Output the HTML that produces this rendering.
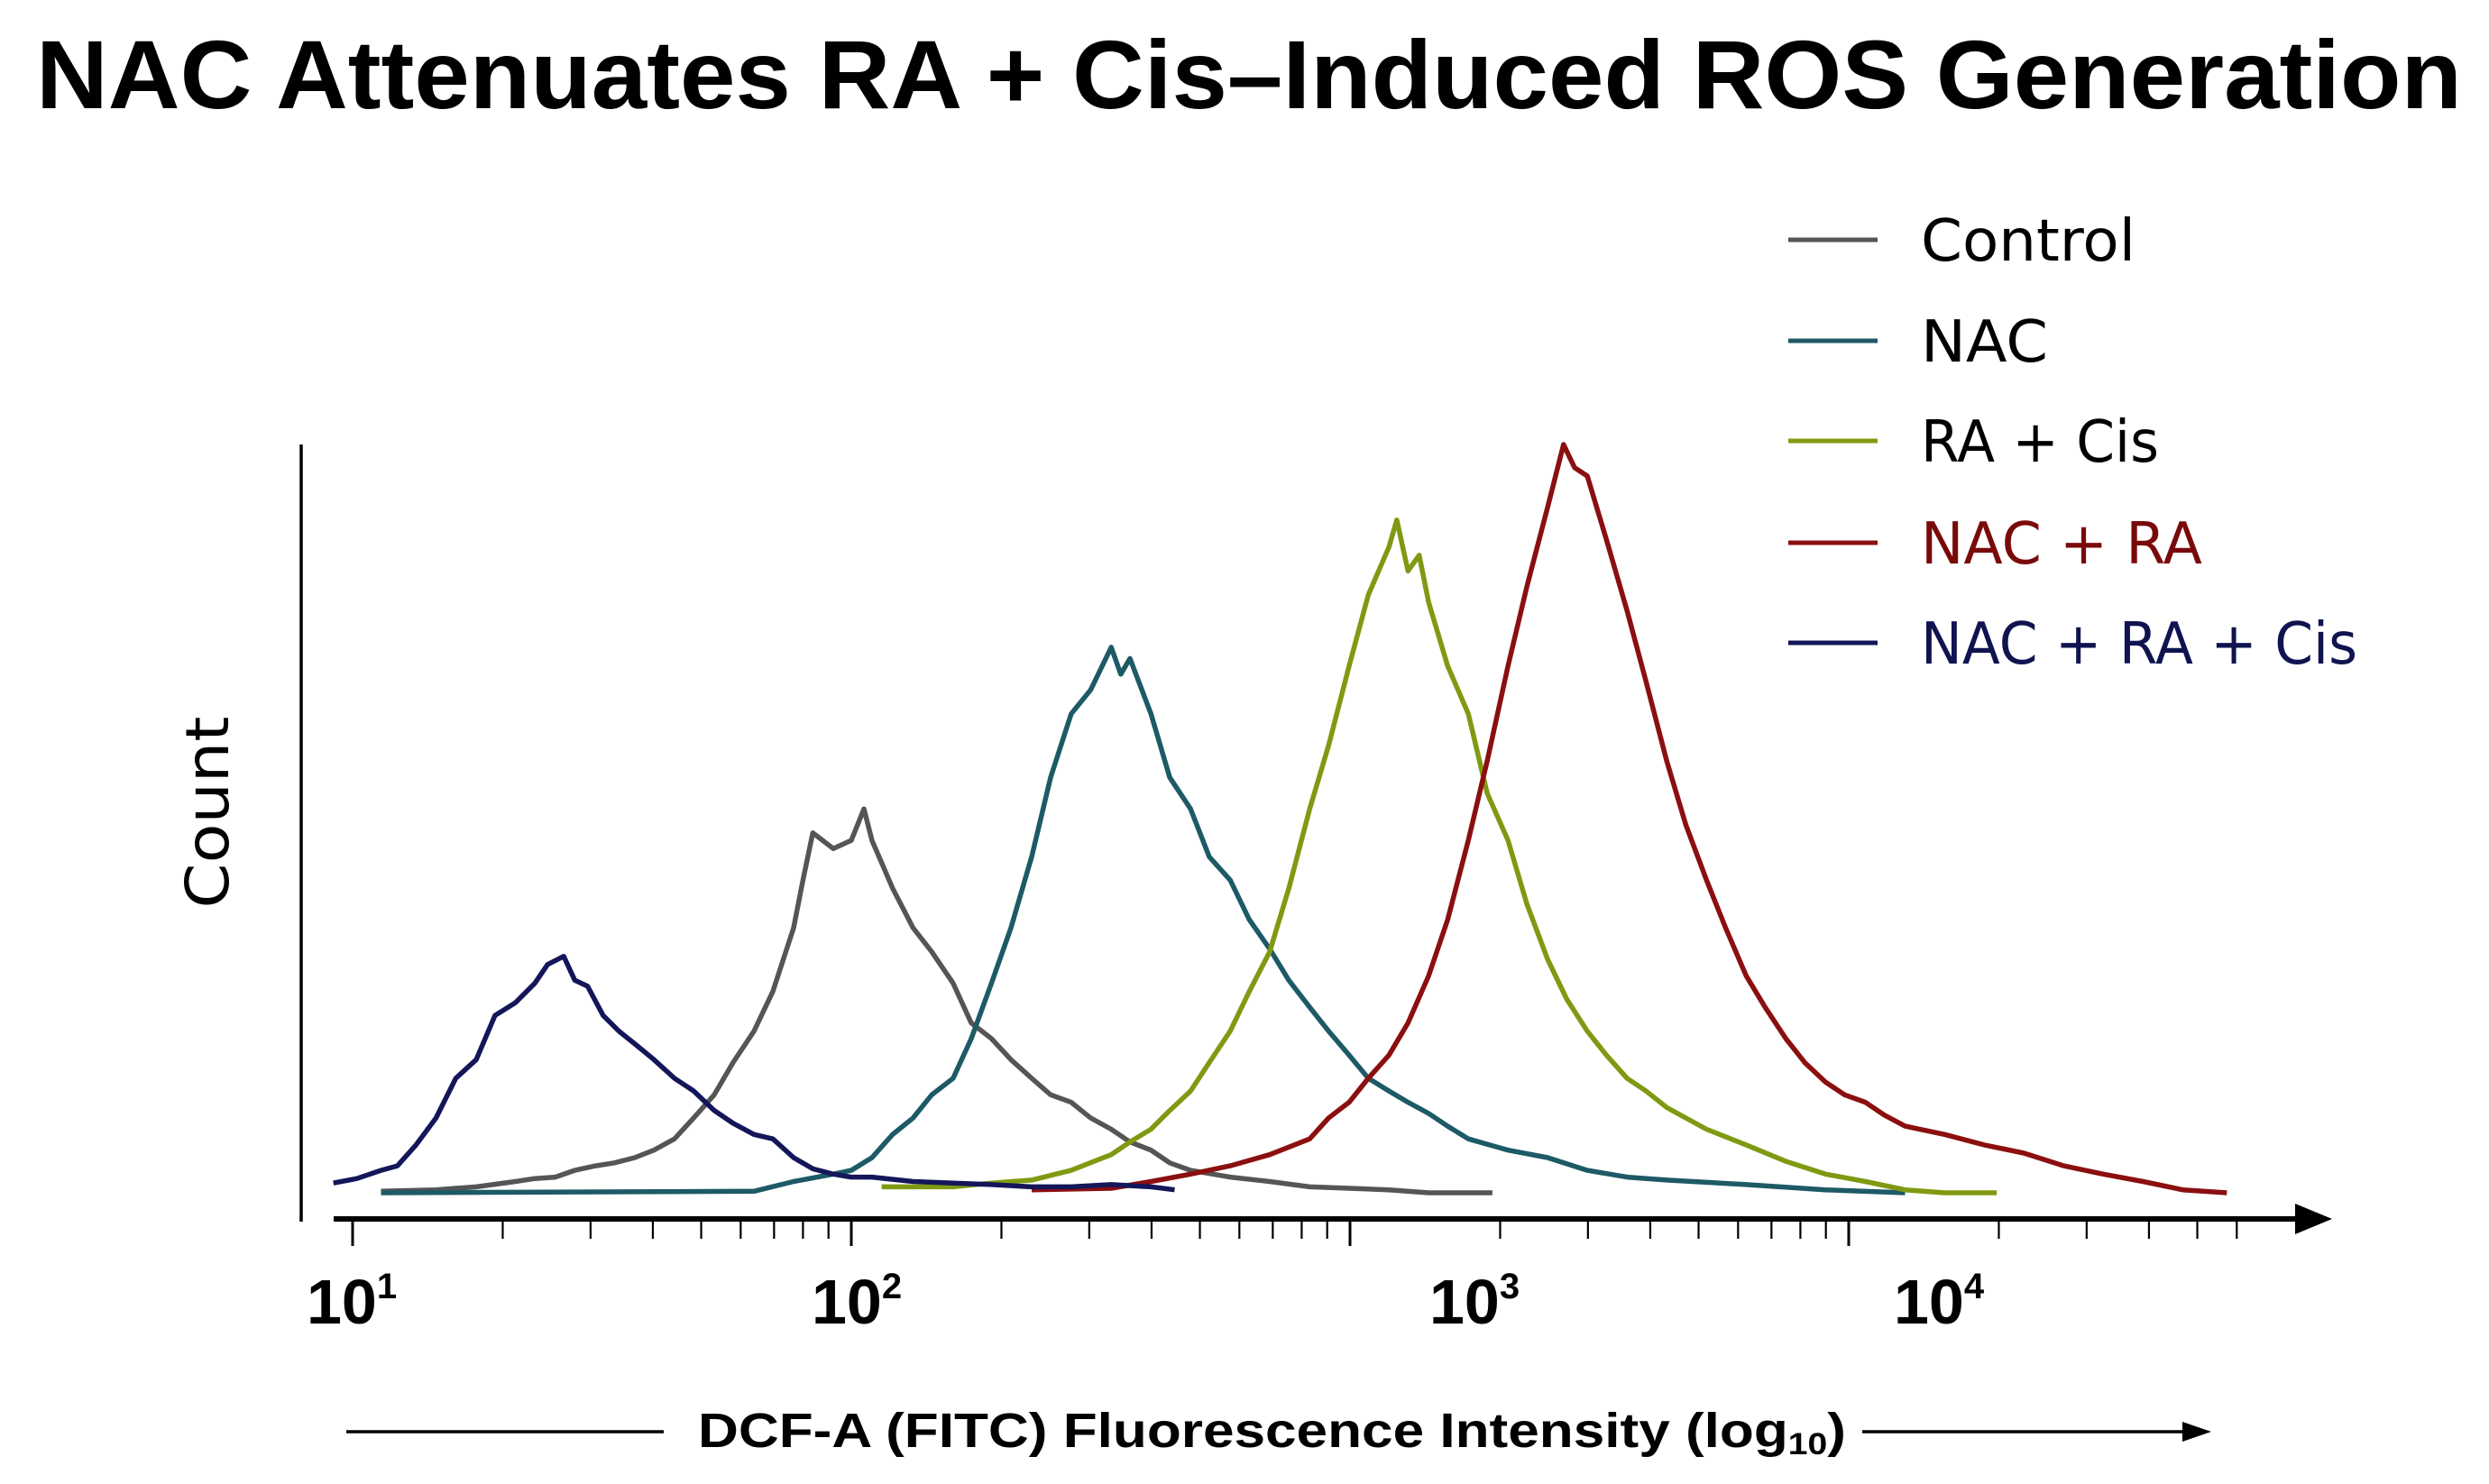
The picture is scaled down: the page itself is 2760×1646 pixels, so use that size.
<!DOCTYPE html>
<html><head><meta charset="utf-8"><style>
html,body{margin:0;padding:0;background:#fff;}
svg{display:block;}
</style></head><body>
<svg id="chart" width="2760" height="1646" viewBox="0 0 2760 1646" xmlns="http://www.w3.org/2000/svg">
<rect width="2760" height="1646" fill="#fff"/>
<text x="1385" y="120" text-anchor="middle" font-family="Liberation Sans, sans-serif" font-weight="bold" font-size="108" textLength="2690" lengthAdjust="spacingAndGlyphs" fill="#000">NAC Attenuates RA + Cis–Induced ROS Generation</text>
<line x1="334" y1="493" x2="334" y2="1355" stroke="#000" stroke-width="3.5"/>
<line x1="370" y1="1352" x2="2555" y2="1352" stroke="#000" stroke-width="6"/>
<polygon points="2545,1335 2586,1352 2545,1369" fill="#000"/>
<text transform="translate(253,901) rotate(-90)" text-anchor="middle" font-family="DejaVu Sans, Liberation Sans, sans-serif" font-size="66" textLength="213" lengthAdjust="spacingAndGlyphs" fill="#000">Count</text>
<g id="ticks"></g>
<g id="ticklabels" font-family="Liberation Sans, sans-serif" font-weight="bold" font-size="70" fill="#000">
<text x="390" y="1468" text-anchor="middle">10<tspan dy="-28" font-size="40">1</tspan></text>
<text x="950" y="1468" text-anchor="middle">10<tspan dy="-28" font-size="40">2</tspan></text>
<text x="1635" y="1468" text-anchor="middle">10<tspan dy="-28" font-size="40">3</tspan></text>
<text x="2150" y="1468" text-anchor="middle">10<tspan dy="-28" font-size="40">4</tspan></text>
</g>
<line x1="384" y1="1588" x2="736" y2="1588" stroke="#000" stroke-width="3.5"/>
<text x="774" y="1605" font-family="Liberation Sans, sans-serif" font-weight="bold" font-size="54" textLength="1273" lengthAdjust="spacingAndGlyphs" fill="#000">DCF-A (FITC) Fluorescence Intensity (log<tspan font-size="34" dy="8">10</tspan><tspan dy="-8">)</tspan></text>
<line x1="2065" y1="1588" x2="2430" y2="1588" stroke="#000" stroke-width="3.5"/>
<polygon points="2420,1577 2452,1588 2420,1599" fill="#000"/>
<g id="series"></g>
<g id="legend" font-family="DejaVu Sans, Liberation Sans, sans-serif" font-size="64"></g>
</svg>
<script>
const NS = "http://www.w3.org/2000/svg";
// ---- data ----
const seriesNames = ["Control","NAC","RA + Cis","NAC + RA","NAC + RA + Cis"];
const seriesColors = ["#555555","#1d5a66","#7f9a12","#8b0f0f","#14165a"];
const legendTextColors = ["#000","#000","#000","#7a0a0a","#0f1450"];
const controlX = [11.4,14.7,17.7,21.2,23.2,25.5,27.9,30.7,33.5,36.8,40.2,44.2,48.3,53.1,57.9,63.8,69.6,76.6,80,83.7,92,100,106,110,121,133,145,160,174,191,209,230,251,276,302,332,362,399,435,479,575,690,830,996,1197,1438,1930];
const controlY = [0.2,0.4,0.8,1.5,1.9,2.1,3.0,3.6,4.0,4.7,5.7,7.2,10,13.1,17.4,21.6,26.9,35.4,41.8,48.1,46,47.1,51.3,47.1,40.7,35.4,32.2,28,22.7,20.6,17.8,15.3,13.1,12.1,10,8.5,6.8,5.7,4.0,3.0,2.1,1.5,0.8,0.6,0.4,0,0];
const nacX = [11.4,63.8,76.6,92,100,110,121,133,145,160,174,191,209,230,251,276,302,332,347,362,399,435,479,522,575,628,690,754,830,906,996,1088,1197,1307,1438,1570,1727,2074,2490,2991,3594,4316,6228,8987,12970];
const nacY = [0,0.2,1.5,2.5,3.0,4.7,7.8,10,13.1,15.3,20.6,28,35.4,44.9,55.5,64,67.2,72.9,69.3,71.4,64,55.5,51.3,44.9,41.8,36.5,32.6,28.4,24.8,21.6,18.4,15.3,13.6,12.1,10.6,8.9,7.2,5.7,4.7,3.0,2.1,1.7,1.1,0.4,0];
const raCisX = [115,160,191,230,276,332,362,399,435,479,522,575,628,690,754,830,906,996,1088,1197,1241,1307,1376,1438,1570,1727,1884,2074,2263,2490,2719,2991,3266,3594,3924,4316,4713,5186,6228,7482,8987,10800,12970,15570,19800];
const raCisY = [0.8,0.8,1.3,1.7,3.0,5.1,6.8,8.5,11,13.6,17.4,21.6,26.9,32.2,40.7,51.3,59.8,70.4,79.9,86.3,89.9,83.1,85.2,78.9,70.4,64,53.4,47.1,38.6,31.2,25.9,21.6,18.4,15.3,13.6,11.4,10,8.5,6.4,4.2,2.5,1.5,0.4,0,0];
const nacRaX = [230,332,399,479,575,690,830,906,996,1088,1197,1307,1438,1570,1727,1884,2074,2263,2490,2680,2820,2991,3266,3594,3924,4316,4713,5186,5665,6228,6797,7482,8166,8987,9810,10800,11780,12970,15570,18700,22460,26980,32400,38920,46760,57300];
const nacRaY = [0.4,0.6,1.5,2.5,3.6,5.1,7.2,10,12.1,15.3,18.4,22.7,29,36.5,47.1,57.7,70.4,81,91.6,100,96.9,95.8,87.3,77.8,68.3,57.7,49.2,41.8,35.4,29,24.8,20.6,17.4,14.8,13.1,12.1,10.4,8.9,7.8,6.4,5.3,3.6,2.5,1.5,0.4,0];
const triX = [9.15,10.2,11.4,12.3,13.4,14.7,16.1,17.7,19.3,21.2,23.2,24.6,26.5,27.9,29.6,31.8,34.2,36.8,40.2,44.2,48.3,53.1,57.9,63.8,69.6,76.6,83.7,92,100,110,133,160,191,230,276,332,399,445];
const triY = [1.3,1.9,3.0,3.6,6.4,10,15.3,17.8,23.7,25.4,28,30.5,31.6,28.4,27.6,23.7,21.6,19.9,17.8,15.3,13.6,11,9.3,7.8,7.2,4.7,3.2,2.5,2.1,2.1,1.5,1.3,1.1,0.8,0.8,1.1,0.8,0.4];
const tickLabels = ["10¹","10²","10³","10⁴"];

// ---- axes ----
const X0 = 391, DEC = 553, BASE = 1323, KY = 8.3;
function xScale(v){ return X0 + (Math.log10(v) - 1) * DEC; }
function yScale(c){ return BASE - c * KY; }

// ticks
const tg = document.getElementById('ticks');
for (let d = 1; d <= 4; d++) {
  for (let m = 1; m <= 9; m++) {
    const v = m * Math.pow(10, d);
    if (v > 60000) break;
    const x = xScale(v);
    const t = document.createElementNS(NS, 'line');
    t.setAttribute('x1', x); t.setAttribute('x2', x);
    t.setAttribute('y1', 1354); t.setAttribute('y2', m === 1 ? 1382 : 1374);
    t.setAttribute('stroke', '#000'); t.setAttribute('stroke-width', m === 1 ? 3 : 2.2);
    
    
    tg.appendChild(t);
  }
}

// series
const allX = [controlX, nacX, raCisX, nacRaX, triX];
const allY = [controlY, nacY, raCisY, nacRaY, triY];
const seriesKeys = ["control","nac","ra-cis","nac-ra","nac-ra-cis"];
const sg = document.getElementById('series');
for (let s = 0; s < 5; s++) {
  const xs = allX[s], ys = allY[s];
  let d = '';
  for (let i = 0; i < xs.length; i++) {
    d += (i ? 'L' : 'M') + xScale(xs[i]).toFixed(1) + ' ' + yScale(ys[i]).toFixed(1);
  }
  const p = document.createElementNS(NS, 'path');
  p.setAttribute('d', d);
  p.setAttribute('fill', 'none');
  p.setAttribute('stroke', seriesColors[s]);
  p.setAttribute('stroke-width', 5.5);
  p.setAttribute('stroke-linejoin', 'round');
  
  
  sg.appendChild(p);
}

// legend
const lg = document.getElementById('legend');
const legY = [266, 378, 489, 602, 713];
const legW = [238, 141, 264, 312, 484];
for (let s = 0; s < 5; s++) {
  const l = document.createElementNS(NS, 'line');
  l.setAttribute('x1', 1983); l.setAttribute('x2', 2082);
  l.setAttribute('y1', legY[s]); l.setAttribute('y2', legY[s]);
  l.setAttribute('stroke', seriesColors[s]); l.setAttribute('stroke-width', 5);
  
  
  lg.appendChild(l);
  const t = document.createElementNS(NS, 'text');
  t.setAttribute('x', 2130); t.setAttribute('y', legY[s] + 23);
  t.setAttribute('fill', legendTextColors[s]);
  t.setAttribute('textLength', legW[s]);
  t.setAttribute('lengthAdjust', 'spacingAndGlyphs');
  t.textContent = seriesNames[s];
  
  
  lg.appendChild(t);
}
</script>
</body></html>
